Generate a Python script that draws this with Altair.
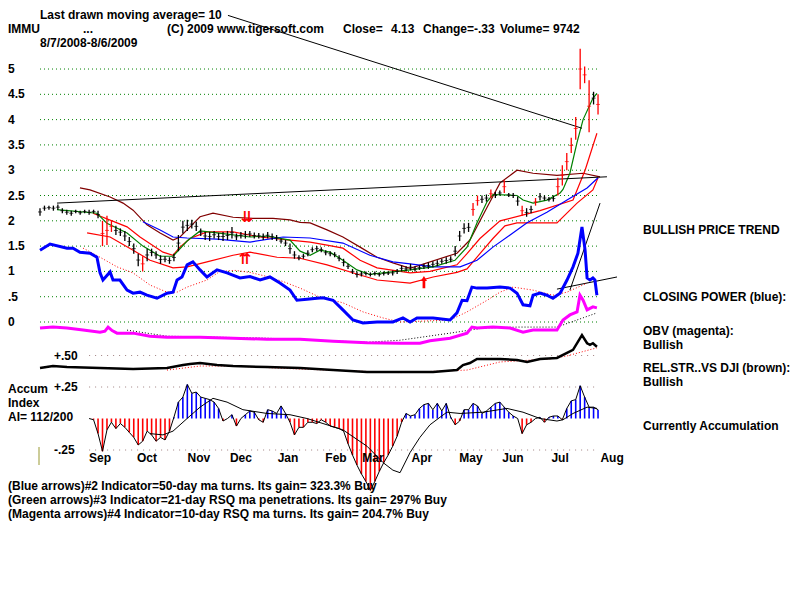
import altair as alt
import pandas as pd

FONT = "Liberation Sans"

# t = trading-day index (0 = 8/7/2008). Price bars: one bar every 2 trading days
bar_step = 2
bar_lo = [2.10,2.20,2.22,2.20,2.22,2.15,2.12,2.10,2.15,2.12,
          2.15,2.12,2.15,2.05,1.50,1.52,1.78,1.72,1.70,1.60,
          1.50,1.35,1.10,1.00,1.20,1.30,1.25,1.15,1.18,1.15,
          1.20,1.40,1.75,1.80,1.85,1.80,1.70,1.62,1.60,1.65,
          1.62,1.60,1.62,1.65,1.62,1.65,1.65,1.68,1.65,1.65,
          1.62,1.65,1.62,1.60,1.55,1.50,1.35,1.25,1.22,1.25,
          1.30,1.38,1.40,1.38,1.32,1.30,1.28,1.20,1.10,1.05,
          0.95,0.88,0.90,0.92,0.90,0.92,0.90,0.92,0.93,0.92,
          0.95,1.00,1.00,1.02,1.00,1.03,1.05,1.05,1.08,1.10,
          1.15,1.15,1.18,1.30,1.60,1.75,1.78,2.10,2.30,2.35,
          2.38,2.45,2.45,2.50,2.55,2.47,2.45,2.30,2.10,2.08,
          2.15,2.30,2.40,2.40,2.38,2.38,2.50,2.70,3.00,3.34,
          3.60,4.60,4.72,3.75,4.30,4.10]
bar_hi = [2.25,2.30,2.30,2.30,2.32,2.25,2.22,2.20,2.22,2.20,
          2.22,2.22,2.22,2.20,2.00,2.10,2.00,1.90,1.85,1.80,
          1.68,1.55,1.35,1.30,1.45,1.45,1.40,1.32,1.30,1.28,
          1.35,1.72,2.00,2.02,2.02,1.98,1.85,1.78,1.78,1.80,
          1.76,1.78,1.80,1.88,1.75,1.78,1.80,1.80,1.77,1.76,
          1.75,1.78,1.75,1.72,1.65,1.62,1.55,1.40,1.32,1.35,
          1.42,1.48,1.50,1.48,1.42,1.40,1.38,1.32,1.25,1.15,
          1.05,1.00,1.00,1.00,0.98,1.00,0.98,1.00,1.00,1.02,
          1.05,1.12,1.10,1.15,1.10,1.12,1.15,1.18,1.20,1.22,
          1.25,1.28,1.30,1.50,1.80,1.95,1.96,2.35,2.50,2.50,
          2.52,2.62,2.57,2.60,2.80,2.55,2.55,2.48,2.30,2.25,
          2.30,2.45,2.55,2.50,2.47,2.50,2.85,3.10,3.34,3.64,
          4.05,5.40,5.05,4.78,4.55,4.50]
big_bars = [14,15,16,23,97,98,101,104,108,111,116,117,118,119,120,121,122,123,125]

# moving averages / bands (t, price)
green_t = [7.6,25.5,30.0,39.0,46.1,53.8,59.6,65.9,71.7,79.3,94.1,101.7,112.0,116.5,121.0,125.4,129.9,135.7,142.0,147.8,
           153.7,165.8,176.1,185.9,191.3,195.8,200.3,202.9,213.7,216.4,220.9,227.1,233.0,234.3,237.4,240.6,243.3,247.7,249.5]
green_v = [2.22,2.15,1.95,1.76,1.50,1.30,1.30,1.60,1.80,1.76,1.68,1.70,1.62,1.40,1.32,1.42,1.38,1.22,1.03,0.94,
           0.97,1.03,1.09,1.22,1.48,1.96,2.38,2.52,2.50,2.41,2.35,2.41,2.55,2.62,2.94,3.55,4.00,4.42,4.52]
ma50_t = [46.1,53.8,59.6,65.9,79.3,94.1,108.9,121.0,135.7,147.8,158.1,165.8,176.1,188.2,195.8,202.9,210.6,218.2,227.1,236.1,245.1,250.0]
ma50_v = [1.98,1.82,1.68,1.66,1.64,1.58,1.68,1.66,1.56,1.32,1.19,1.15,1.09,1.09,1.22,1.48,1.72,1.96,2.17,2.41,2.65,2.85]
brown_t = [17.9,22.4,31.4,37.2,41.7,47.9,53.8,59.6,62.7,67.2,71.7,77.5,86.5,95.4,104.4,112.0,116.5,121.0,128.6,135.7,
           143.4,151.0,158.1,165.8,186.8,192.6,200.3,206.1,213.7,220.9,231.6,243.3,250.9]
brown_v = [2.65,2.61,2.47,2.35,2.21,1.92,1.76,1.62,1.68,1.88,2.08,2.15,2.07,2.05,2.05,2.02,1.97,1.96,1.82,1.68,
           1.48,1.28,1.17,1.06,1.36,1.62,2.27,2.75,3.00,2.94,2.90,2.94,2.87]
redup_t = [23.7,34.5,39.0,44.8,55.1,59.6,62.7,67.2,74.8,86.5,98.6,112.0,121.0,128.6,135.7,143.4,151.0,165.8,174.7,186.8,
           191.3,197.1,206.1,224.0,238.8,244.2,249.5]
redup_v = [2.15,1.96,1.88,1.68,1.38,1.32,1.48,1.65,1.78,1.78,1.68,1.62,1.58,1.52,1.46,1.22,1.07,0.97,1.00,1.13,
           1.35,1.65,2.00,2.20,2.41,3.00,3.73]
redlo_t = [21.1,31.4,41.7,49.3,59.6,65.9,74.8,86.5,94.1,106.2,116.5,128.6,143.4,151.0,165.8,176.1,186.8,191.3,197.1,202.9,
           208.3,213.7,231.6,240.6,247.7,250.0]
redlo_v = [1.76,1.68,1.42,1.22,1.07,1.09,1.19,1.32,1.38,1.28,1.26,1.13,0.93,0.83,0.77,0.89,0.98,1.05,1.35,1.65,
           1.90,1.96,1.96,2.35,2.61,2.85]

# closing power (blue) and its average
cp_t = [0,4.5,12.1,14.8,17.9,22.4,25.5,26.9,28.2,31.4,32.7,35.8,39.0,41.7,44.8,47.9,52.4,56.9,59.6,61.4,
        63.6,65.9,68.5,71.7,74.8,79.3,83.8,89.6,94.1,98.6,103.0,107.5,112.0,115.1,119.6,124.1,126.8,131.3,135.7,140.2,
        144.7,151.0,158.1,162.6,165.8,168.9,176.1,183.7,186.8,189.1,191.3,193.5,195.8,200.3,206.1,210.6,213.7,216.4,219.5,220.9,
        224.0,227.1,229.8,233.0,236.1,238.8,241.0,242.8,244.2,245.1,246.4,247.7,248.6,249.5]
cp_v = [1.42,1.54,1.46,1.46,1.38,1.36,1.28,0.97,0.83,0.99,0.83,0.83,0.63,0.57,0.59,0.53,0.47,0.57,0.59,0.83,
        0.89,1.13,1.19,1.03,0.89,1.03,0.97,0.87,0.90,0.83,0.89,0.77,0.63,0.43,0.45,0.47,0.48,0.43,0.24,0.04,
        -0.02,0.00,0.00,0.08,0.00,0.08,0.08,0.04,0.18,0.43,0.42,0.69,0.67,0.67,0.69,0.67,0.57,0.34,0.32,0.53,
        0.57,0.53,0.47,0.57,0.83,1.09,1.36,1.88,1.42,0.87,0.83,0.87,0.83,0.53]
cpma_t = [19.3,26.9,34.5,41.7,49.3,56.9,61.4,65.9,74.8,80.6,87.4,94.1,101.7,108.9,116.5,125.4,135.7,144.7,153.7,161.3,
          183.7,191.3,200.3,206.1,211.9,220.9,229.8,236.1,245.1]
cpma_v = [1.46,1.28,1.09,0.97,0.73,0.59,0.59,0.69,0.83,1.00,1.02,0.98,0.90,0.80,0.67,0.49,0.38,0.20,0.08,0.00,
          0.04,0.20,0.43,0.59,0.69,0.63,0.53,0.59,0.77]

# OBV (magenta) and its average
obv_t = [0,5.8,12.1,19.3,26.9,29.1,30.5,32.3,34.5,41.7,49.3,56.9,71.7,86.5,101.7,116.5,131.3,146.5,161.3,170.2,
         174.7,183.7,191.3,193.5,195.8,202.9,210.6,216.4,220.9,231.6,234.3,237.4,240.6,241.9,243.3,245.1,247.7,249.5]
obv_v = [-0.12,-0.10,-0.12,-0.16,-0.20,-0.18,-0.10,-0.17,-0.22,-0.22,-0.28,-0.30,-0.30,-0.32,-0.34,-0.34,-0.38,-0.41,-0.42,-0.42,
         -0.37,-0.32,-0.22,-0.10,-0.12,-0.10,-0.12,-0.20,-0.16,-0.16,0.04,0.14,0.20,0.53,0.43,0.24,0.30,0.28]
obvma_t = [39.0,56.9,101.7,146.5,161.3,183.7,198.5,213.7,231.6,240.6,249.5]
obvma_v = [-0.16,-0.28,-0.32,-0.40,-0.36,-0.22,-0.12,-0.10,-0.10,0.04,0.18]

# relative strength vs DJI and its average
rs_t = [0,5.8,12.1,26.9,41.7,56.9,64.1,67.2,71.7,79.3,86.5,101.7,116.5,131.3,146.5,161.3,176.1,186.8,189.5,192.6,
        195.8,206.1,213.7,218.2,224.0,231.6,236.1,238.8,242.8,245.1,246.4,247.7,249.5]
rs_v = [-0.91,-0.87,-0.89,-0.91,-0.93,-0.91,-0.85,-0.83,-0.81,-0.85,-0.87,-0.89,-0.91,-0.95,-0.99,-0.99,-0.99,-0.95,-0.85,-0.81,
        -0.73,-0.73,-0.75,-0.79,-0.73,-0.71,-0.61,-0.55,-0.26,-0.42,-0.45,-0.42,-0.49]
rsma_t = [56.9,71.7,86.5,116.5,161.3,191.3,206.1,228.5,236.1,249.5]
rsma_v = [-0.95,-0.87,-0.87,-0.93,-1.00,-0.95,-0.79,-0.73,-0.67,-0.51]

# Accumulation index, every 2 trading days from t = 22
ai_start = 22
ai_v = [0.00,-0.01,-0.12,-0.26,-0.09,-0.03,-0.08,-0.04,-0.07,
        -0.11,-0.15,-0.21,-0.18,-0.10,-0.13,-0.18,-0.15,-0.17,-0.10,
        0.01,0.13,0.17,0.27,0.20,0.21,0.17,0.16,0.15,0.13,
        0.08,-0.02,0.00,0.03,-0.06,0.00,0.03,0.06,0.05,-0.01,
        -0.03,0.07,0.06,0.04,0.10,0.04,-0.03,-0.13,-0.07,-0.07,
        -0.03,-0.03,-0.04,-0.01,-0.03,-0.06,-0.07,-0.08,-0.10,-0.20,
        -0.29,-0.37,-0.44,-0.50,-0.57,-0.50,-0.42,-0.35,-0.29,-0.22,
        -0.14,-0.03,0.04,0.02,0.03,0.08,0.11,0.12,0.07,0.12,
        0.06,0.12,0.01,-0.05,-0.02,0.07,0.07,0.12,0.10,0.04,
        0.06,0.09,0.12,0.13,0.09,0.05,0.02,0.00,-0.12,-0.05,
        -0.03,0.00,0.01,-0.03,0.01,0.02,0.02,-0.01,0.08,0.14,
        0.15,0.26,0.17,0.09,0.09,0.07]
aima_t = [49.3,55.1,59.6,65.9,71.7,77.5,83.8,90.9,101.7,112.0,119.6,126.8,135.7,146.5,153.7,158.1,161.3,165.8,170.2,174.7,
          179.2,182.3,188.2,198.5,209.2,216.4,224.0,231.6,234.3,238.8,245.1,249.5]
aima_v = [-0.12,-0.13,-0.10,0.00,0.09,0.16,0.13,0.07,0.04,0.03,0.00,-0.04,-0.09,-0.22,-0.35,-0.41,-0.43,-0.27,-0.15,-0.05,
          0.01,0.05,0.04,0.05,0.08,0.05,0.00,-0.02,-0.01,0.04,0.09,0.08]

# drawn trend lines
trend_seg = ["a","a","b","b","c","c","d","d"]
trend_t = [84.2,242.8,7.6,254.0,231.6,258.5,237.4,250.9]
trend_v = [6.06,3.83,2.35,2.87,0.65,0.89,0.63,2.35]

# signal arrows
arrow_t = [92.7,91.8]
arrow_v = [2.07,1.25]
arrow_s = ["\u21ca","\u21c8"]
up_arrow_t = [172.0]
up_arrow_v = [0.79]

price_levels = [5,4.5,4,3.5,3,2.5,2,1.5,1,0.5,0]
price_labels = ["5","4.5","4","3.5","3","2.5","2","1.5","1",".5","0"]
ai_levels = [0.5,0.25,-0.25]
ai_labels = ["+.50","+.25","-.25"]
months = ["Sep","Oct","Nov","Dec","Jan","Feb","Mar","Apr","May","Jun","Jul","Aug"]
month_t = [26.9,47.9,71.2,90.0,111.1,132.6,149.2,171.1,193.1,211.9,233.0,256.3]

# ---------------------------------------------------------------
xs = alt.Scale(domain=[-14.34, 336.9], nice=False, zero=False)
yp = alt.Scale(domain=[-5.336, 6.206], nice=False, zero=False)
ya = alt.Scale(domain=[-1.377, 3.258], nice=False, zero=False)


def X(f="t"):
    return alt.X(f + ":Q", scale=xs, axis=None)


def YP(f="v"):
    return alt.Y(f + ":Q", scale=yp, axis=None)


def YA(f="v"):
    return alt.Y(f + ":Q", scale=ya, axis=None)


def line(ts, vs, color, width=1.0, dash=None, ai=False):
    kw = dict(color=color, strokeWidth=width, interpolate="linear")
    if dash:
        kw["strokeDash"] = dash
    return alt.Chart(pd.DataFrame({"t": ts, "v": vs})).mark_line(**kw).encode(
        x=X(), y=(YA() if ai else YP()), order="t:Q")


def txt(s, x, y, align="left", size=12, color="black"):
    return alt.Chart(pd.DataFrame({"s": [s]})).mark_text(
        align=align, baseline="middle", font=FONT, fontSize=size, fontWeight="bold", color=color
    ).encode(x=alt.value(x - 8), y=alt.value(y - 8), text="s:N")


layers = []

bar_t = [i * bar_step for i in range(len(bar_lo))]
grid_df = pd.DataFrame({"v": price_levels, "t0": bar_t[0], "t1": bar_t[-1]})
layers.append(alt.Chart(grid_df).mark_rule(color="#008000", strokeDash=[1, 3], strokeWidth=1).encode(
    x=X("t0"), x2="t1:Q", y=YP()))

ai_t = [ai_start + 2 * i for i in range(len(ai_v))]
aigrid_df = pd.DataFrame({"v": ai_levels, "t0": ai_start, "t1": bar_t[-1]})
layers.append(alt.Chart(aigrid_df).mark_rule(color="#a08080", strokeDash=[1, 5], strokeWidth=1).encode(
    x=X("t0"), x2="t1:Q", y=YA()))

# AI histogram
ai_df = pd.DataFrame({"t": ai_t, "v": ai_v})
layers.append(alt.Chart(ai_df).transform_calculate(
    z="0", sgn="datum.v < 0 ? 'neg' : 'pos'").mark_rule(strokeWidth=1.6).encode(
    x=X(), y=YA(), y2="z:Q",
    color=alt.Color("sgn:N", scale=alt.Scale(domain=["neg", "pos"], range=["#ff0000", "#0000ff"]), legend=None)))
layers.append(line(ai_t, ai_v, "black", 1.0, ai=True))
layers.append(line(aima_t, aima_v, "black", 1.0, ai=True))

# bands and moving averages
layers.append(line(brown_t, brown_v, "#800000", 1.2))
layers.append(line(redlo_t, redlo_v, "#ff0000", 1.2))
layers.append(line(redup_t, redup_v, "#ff0000", 1.2))
layers.append(line(ma50_t, ma50_v, "#0000ff", 1.2))
layers.append(line(green_t, green_v, "#008000", 1.2))

# trend lines
layers.append(alt.Chart(pd.DataFrame({"seg": trend_seg, "t": trend_t, "v": trend_v})).mark_line(
    color="black", strokeWidth=1).encode(x=X(), y=YP(), detail="seg:N"))

# price bars
bars_df = pd.DataFrame({"t": bar_t, "lo": bar_lo, "hi": bar_hi,
                        "kind": ["big" if i in big_bars else "normal" for i in range(len(bar_lo))]})
bar_color = alt.Color("kind:N", scale=alt.Scale(domain=["big", "normal"], range=["#ff0000", "#000000"]), legend=None)
layers.append(alt.Chart(bars_df).mark_rule(strokeWidth=1.3).encode(
    x=X(), y=YP("lo"), y2="hi:Q", color=bar_color))
layers.append(alt.Chart(bars_df).transform_calculate(mid="(datum.lo + datum.hi) / 2").mark_tick(
    orient="horizontal", size=4, thickness=1).encode(x=X(), y=YP("mid"), color=bar_color))

# indicator lines
layers.append(line(cpma_t, cpma_v, "#ff0000", 1.0, dash=[1, 2]))
layers.append(line(cp_t, cp_v, "#0000ff", 3.0))
layers.append(line(obvma_t, obvma_v, "black", 1.0, dash=[1, 2]))
layers.append(line(obv_t, obv_v, "#ff00ff", 3.0))
layers.append(line(rsma_t, rsma_v, "#ff0000", 1.0, dash=[1, 2]))
layers.append(line(rs_t, rs_v, "black", 2.5))

# arrows
layers.append(alt.Chart(pd.DataFrame({"t": arrow_t, "v": arrow_v, "s": arrow_s})).mark_text(
    font="DejaVu Sans", fontSize=15, fontWeight="bold", color="#ff0000", baseline="middle").encode(
    x=X(), y=YP(), text="s:N"))
layers.append(alt.Chart(pd.DataFrame({"t": up_arrow_t, "v": up_arrow_v})).mark_point(
    shape="M-0.22,1L-0.22,-0.15L-0.5,-0.15L0,-1L0.5,-0.15L0.22,-0.15L0.22,1Z",
    filled=True, color="#ff0000", size=150, opacity=1).encode(x=X(), y=YP()))

# axis-like labels
layers.append(alt.Chart(pd.DataFrame({"v": price_levels, "lab": price_labels})).mark_text(
    align="left", baseline="middle", font=FONT, fontSize=12, fontWeight="bold", color="black").encode(
    x=alt.value(0), y=YP(), text="lab:N"))
layers.append(alt.Chart(pd.DataFrame({"v": ai_levels, "lab": ai_labels})).mark_text(
    align="left", baseline="middle", font=FONT, fontSize=12, fontWeight="bold", color="black").encode(
    x=alt.value(46), y=YA(), text="lab:N"))
layers.append(alt.Chart(pd.DataFrame({"t": month_t, "m": months})).mark_text(
    align="center", baseline="middle", font=FONT, fontSize=12, fontWeight="bold", color="black").encode(
    x=X(), y=alt.value(450), text="m:N"))

# small marker at lower left
layers.append(alt.Chart(pd.DataFrame({"a": [0]})).mark_rule(color="#999933", strokeWidth=1).encode(
    x=alt.value(31), y=alt.value(439), y2=alt.value(457)))

# header texts
layers += [
    txt("Last drawn moving average= 10", 40, 15),
    txt("IMMU", 8, 29),
    txt("...", 83, 29),
    txt("(C) 2009 www.tigersoft.com", 167, 29),
    txt("Close=", 343, 29),
    txt("4.13", 391, 29),
    txt("Change=-.33", 423, 29),
    txt("Volume=", 500, 29),
    txt("9742", 553, 29),
    txt("8/7/2008-8/6/2009", 40, 43),
    txt("Accum", 8, 389),
    txt("Index", 8, 403),
    txt("AI= 112/200", 8, 417),
    txt("BULLISH PRICE TREND", 643, 230),
    txt("CLOSING POWER (blue):", 643, 297),
    txt("OBV (magenta):", 643, 331),
    txt("Bullish", 643, 345),
    txt("REL.STR..VS DJI (brown):", 643, 368),
    txt("Bullish", 643, 382),
    txt("Currently Accumulation", 643, 426),
    txt("(Blue arrows)#2 Indicator=50-day ma turns. Its gain= 323.3% Buy", 8, 486),
    txt("(Green arrows)#3 Indicator=21-day RSQ ma penetrations. Its gain= 297% Buy", 8, 500),
    txt("(Magenta arrows)#4 Indicator=10-day RSQ ma turns. Its gain= 204.7% Buy", 8, 514),
]

chart = alt.layer(*layers).resolve_scale(y="independent", color="independent").properties(
    width=784, height=584, padding=0, background="white",
    autosize=alt.AutoSizeParams(type="none"),
).configure_view(stroke=None)

chart.save("out.html", embed_options={"renderer": "svg", "actions": False})
